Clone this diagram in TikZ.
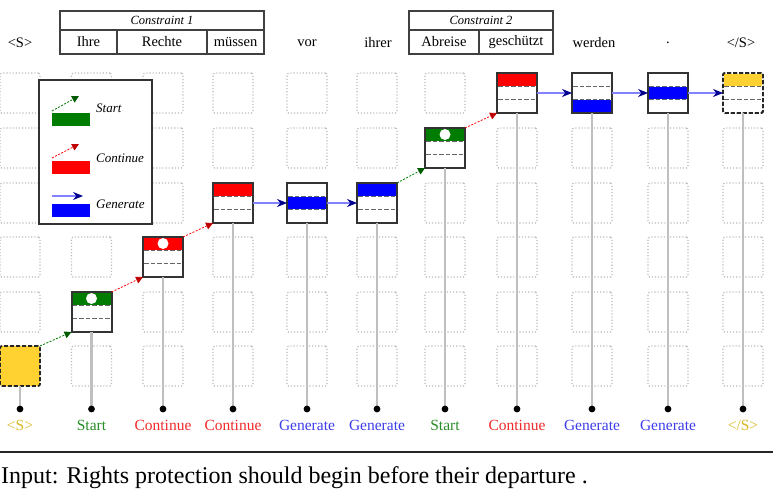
\documentclass[tikz,border=0pt]{standalone}
\usepackage{fontspec}
\setmainfont{Liberation Serif}
\usetikzlibrary{arrows.meta}
\definecolor{sgreen}{RGB}{0,125,0}
\definecolor{sgreendark}{RGB}{0,90,0}
\definecolor{cred}{RGB}{255,0,0}
\definecolor{creddark}{RGB}{190,0,0}
\definecolor{gblue}{RGB}{0,0,255}
\definecolor{gbluelight}{RGB}{130,130,255}
\definecolor{gbluedark}{RGB}{0,0,140}
\definecolor{syellow}{RGB}{255,210,50}
\definecolor{lblstart}{RGB}{40,140,40}
\definecolor{lblcont}{RGB}{240,40,40}
\definecolor{lblgen}{RGB}{60,60,235}
\definecolor{lblsent}{RGB}{215,185,40}
\tikzset{
  gridbox/.style={draw=gray!55, dotted, line width=1.1pt, rounded corners=1.5pt, minimum size=40pt, inner sep=0pt, outer sep=0pt},
  tokbox/.style={draw=black!80, fill=white, line width=2pt, minimum size=40pt, inner sep=0pt, outer sep=0pt},
  sentbox/.style={draw=black!85, dashed, dash pattern=on 4pt off 2pt, line width=1.8pt, rounded corners=2pt, minimum size=40pt, inner sep=0pt, outer sep=0pt},
  tokline/.style={draw=black!80, line width=2pt},
  divline/.style={draw=black!60, dashed, dash pattern=on 4.5pt off 2pt, line width=1.5pt},
  stem/.style={draw=gray!50, line width=2.2pt},
  dotnode/.style={circle, inner sep=0pt, minimum size=7pt},
  startarr/.style={draw=sgreen, dash pattern=on 2pt off 1.5pt, line width=0.8pt, -{Triangle[length=7pt,width=7pt,fill=sgreendark,color=sgreendark]}},
  contarr/.style={draw=cred, dash pattern=on 2pt off 1.5pt, line width=0.8pt, -{Triangle[length=7pt,width=7pt,fill=creddark,color=creddark]}},
  genarr/.style={draw=gbluelight, line width=1.2pt, -{Stealth[length=10pt,width=8pt,fill=gbluedark,color=gbluedark]}},
  word/.style={font=\fontsize{14.5}{16}\selectfont, inner sep=0pt},
  cell/.style={draw=black!75, line width=1.3pt, inner sep=0pt, outer sep=0pt, font=\fontsize{14.5}{16}\selectfont},
  ctitle/.style={draw=black!75, line width=1.3pt, inner sep=0pt, outer sep=0pt, font=\fontsize{12.5}{14}\selectfont\itshape},
  lbl/.style={font=\fontsize{15.5}{17}\selectfont, inner sep=0pt},
  legtext/.style={font=\fontsize{13}{15}\selectfont\itshape, inner sep=0pt, anchor=west},
}
% name, cx, cy, part (0 top, 1 mid, 2 bottom), colour, dot (1 = white dot)
\newcommand\tkbox[6]{%
  \node[tokbox] (#1) at (#2,#3) {};
  \fill[#5] ({#2-19},{#3-20+13.33*#4+(#4==0?1:0)}) rectangle ({#2+19},{#3-20+13.33*(#4+1)-(#4==2?1:0)});
  \ifnum#6=1 \fill[white] (#2,{#3-13.5}) circle (5.5pt);\fi
  \draw[white, line width=1.5pt] ({#2-19},{#3-6.67}) -- ({#2+19},{#3-6.67});
  \draw[white, line width=1.5pt] ({#2-19},{#3+6.67}) -- ({#2+19},{#3+6.67});
  \draw[divline] ({#2-19},{#3-6.67}) -- ({#2+19},{#3-6.67});
  \draw[divline] ({#2-19},{#3+6.67}) -- ({#2+19},{#3+6.67});
  \draw[tokline] (#1.north west) rectangle (#1.south east);
}
\begin{document}
\begin{tikzpicture}[x=1pt,y=-1pt]
\useasboundingbox (0,0) rectangle (773,492);
% ---------- grid of dotted cells ----------
\foreach \cx [count=\i] in {20,91.5,163,233,307,377,445,517,592,668,743}{
  \foreach \cy [count=\j] in {93,148,203,257,312,366}{
    \node[gridbox] (g\i-\j) at (\cx,\cy) {};
  }
}
% ---------- legend ----------
\node[draw=black!80, line width=1.4pt, fill=white, minimum width=113pt, minimum height=144pt, inner sep=0pt, outer sep=0pt] (legend) at (95.5,152) {};
\coordinate (ls0) at (52,111); \coordinate (ls1) at (79,96);
\coordinate (lc0) at (52,158); \coordinate (lc1) at (79,144);
\coordinate (lg0) at (52,196); \coordinate (lg1) at (83,196);
\draw[startarr] (ls0) -- (ls1);
\draw[contarr] (lc0) -- (lc1);
\draw[genarr] (lg0) -- (lg1);
\node[fill=sgreen, minimum width=38pt, minimum height=12.5pt, inner sep=0pt] (lbs) at (71,119.5) {};
\node[fill=cred, minimum width=38pt, minimum height=12.5pt, inner sep=0pt] (lbc) at (71,167.5) {};
\node[fill=gblue, minimum width=38pt, minimum height=12.5pt, inner sep=0pt] (lbg) at (71,210.5) {};
\node[legtext] (lts) at (96,108) {Start};
\node[legtext] (ltc) at (96,158) {Continue};
\node[legtext] (ltg) at (96,204) {Generate};
% ---------- dots ----------
\foreach \cx [count=\i] in {20,91.5,163,233,307,377,445,517,592,668,743}{
  \node[dotnode] (d\i) at (\cx,409) {};
}
% ---------- token boxes ----------
\node[sentbox, fill=syellow] (b0) at (20,366) {};
\draw[stem] (b0.south) -- (d1.center);
\tkbox{b1}{91.5}{312}{0}{sgreen}{1}
\tkbox{b2}{163}{257}{0}{cred}{1}
\tkbox{b3}{233}{203}{0}{cred}{0}
\tkbox{b4}{307}{203}{1}{gblue}{0}
\tkbox{b5}{377}{203}{0}{gblue}{0}
\tkbox{b6}{445}{148}{0}{sgreen}{1}
\tkbox{b7}{517}{93}{0}{cred}{0}
\tkbox{b8}{592}{93}{2}{gblue}{0}
\tkbox{b9}{668}{93}{1}{gblue}{0}
\node[sentbox, fill=white] (b10) at (743,93) {};
\fill[syellow] (724,74) rectangle (762,86.4);
\draw[white, line width=1.5pt] (724,86.4) -- (762,86.4);
\draw[divline] (724,86.4) -- (762,86.4);
\draw[divline] (724,99.7) -- (762,99.7);
\node[sentbox] at (743,93) {};
\draw[stem] (b1.south) -- (d2.center);
\draw[stem] (b2.south) -- (d3.center);
\draw[stem] (b3.south) -- (d4.center);
\draw[stem] (b4.south) -- (d5.center);
\draw[stem] (b5.south) -- (d6.center);
\draw[stem] (b6.south) -- (d7.center);
\draw[stem] (b7.south) -- (d8.center);
\draw[stem] (b8.south) -- (d9.center);
\draw[stem] (b9.south) -- (d10.center);
\draw[stem] (b10.south) -- (d11.center);
\foreach \i in {1,...,11}{ \fill (d\i) circle (3.4pt); }
% ---------- connectors ----------
\draw[startarr] (b0.north east) -- (b1.south west);
\draw[contarr] (b1.north east) -- (b2.south west);
\draw[contarr] (b2.north east) -- (b3.south west);
\draw[genarr] (b3.east) -- (b4.west);
\draw[genarr] (b4.east) -- (b5.west);
\draw[startarr] (b5.north east) -- (b6.south west);
\draw[contarr] (b6.north east) -- (b7.south west);
\draw[genarr] (b7.east) -- (b8.west);
\draw[genarr] (b8.east) -- (b9.west);
\draw[genarr] (b9.east) -- (b10.west);
% ---------- labels ----------
\node[lbl, text=lblsent] (l1) at (20,425) {<S>};
\node[lbl, text=lblstart] (l2) at (91.5,425) {Start};
\node[lbl, text=lblcont] (l3) at (163,425) {Continue};
\node[lbl, text=lblcont] (l4) at (233,425) {Continue};
\node[lbl, text=lblgen] (l5) at (307,425) {Generate};
\node[lbl, text=lblgen] (l6) at (377,425) {Generate};
\node[lbl, text=lblstart] (l7) at (445,425) {Start};
\node[lbl, text=lblcont] (l8) at (517,425) {Continue};
\node[lbl, text=lblgen] (l9) at (592,425) {Generate};
\node[lbl, text=lblgen] (l10) at (668,425) {Generate};
\node[lbl, text=lblsent] (l11) at (743,425) {</S>};
% ---------- header words ----------
\node[word] (w0) at (20,43) {<S>};
\node[ctitle, minimum width=204pt, minimum height=19pt] (c1) at (162,20.5) {Constraint 1};
\node[cell, minimum width=57pt, minimum height=24pt] (w1) at (88.5,42) {Ihre};
\node[cell, minimum width=90pt, minimum height=24pt] (w2) at (162,42) {Rechte};
\node[cell, minimum width=57pt, minimum height=24pt] (w3) at (235.5,42) {müssen};
\node[word] (w4) at (307,43) {vor};
\node[word] (w5) at (378,43) {ihrer};
\node[ctitle, minimum width=144pt, minimum height=19pt] (c2) at (481,20.5) {Constraint 2};
\node[cell, minimum width=70pt, minimum height=24pt] (w6) at (444,42) {Abreise};
\node[cell, minimum width=74pt, minimum height=24pt] (w7) at (516,42) {geschützt};
\node[word] (w8) at (594,43) {werden};
\node[word] (w9) at (668,43) {.};
\node[word] (w10) at (741,43) {</S>};
% ---------- bottom rule and input ----------
\coordinate (r0) at (0,452); \coordinate (r1) at (773,452);
\draw[line width=2pt, black!85] (r0) -- (r1);
\node[font=\fontsize{24}{26}\selectfont, inner sep=0pt, anchor=west] (inp) at (1,478) {Input: Rights protection should begin before their departure .};
\end{tikzpicture}
\end{document}
